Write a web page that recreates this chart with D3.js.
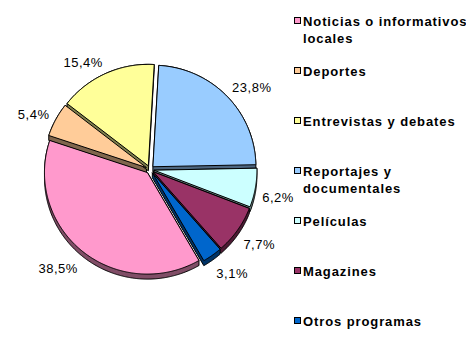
<!DOCTYPE html>
<html>
<head>
<meta charset="utf-8">
<script src="https://cdn.jsdelivr.net/npm/d3@7"></script>
<style>
  html, body { margin: 0; padding: 0; background: #fff; }
  svg { display: block; }
</style>
</head>
<body>
<svg id="chart" width="466" height="364"></svg>
<script>
// ---- data ----
const categories = [
  "Noticias o informativos locales",
  "Deportes",
  "Entrevistas y debates",
  "Reportajes y documentales",
  "Películas",
  "Magazines",
  "Otros programas"
];
const values = [38.5, 5.4, 15.4, 23.8, 6.2, 7.7, 3.1];
const colors = ["#FF99CC", "#FFCC99", "#FFFF99", "#99CCFF", "#CCFFFF", "#993366", "#0066CC"];
// legend text lines
const legendLines = [
  ["Noticias o informativos", "locales"],
  ["Deportes"],
  ["Entrevistas y debates"],
  ["Reportajes y", "documentales"],
  ["Películas"],
  ["Magazines"],
  ["Otros programas"]
];

// ---- layout ----
const svg = d3.select("#chart");
const cx = 150, cy = 169.5;
const rx = 103, ry = 101.5;
const depth = 5;
const explode = 4;
const startDeg = 150;

const pie = d3.pie().sort(null).value(d => d)
  .startAngle(startDeg * Math.PI / 180)
  .endAngle(startDeg * Math.PI / 180 + 2 * Math.PI);
const arcs = pie(values);

function slicePoints(d, dy) {
  const mid = (d.startAngle + d.endAngle) / 2;
  const ox = explode * Math.sin(mid), oy = -explode * Math.cos(mid) + dy;
  const pts = [[cx + ox, cy + oy]];
  const n = Math.max(8, Math.ceil((d.endAngle - d.startAngle) / 0.01));
  for (let i = 0; i <= n; i++) {
    const a = d.startAngle + (d.endAngle - d.startAngle) * i / n;
    pts.push([cx + ox + rx * Math.sin(a), cy + oy - ry * Math.cos(a)]);
  }
  return pts;
}
const line = d3.line().curve(d3.curveLinearClosed);
function darken(c, k) {
  const r = d3.rgb(c);
  return d3.rgb(r.r * k, r.g * k, r.b * k).formatHex();
}

// side / extrusion shapes
const gSide = svg.append("g");
arcs.forEach((d, i) => {
  const pts = slicePoints(d, 0).concat(slicePoints(d, depth));
  const hull = d3.polygonHull(pts);
  gSide.append("path")
    .attr("d", line(hull))
    .attr("fill", darken(colors[i], 0.5))
    .attr("stroke", "#000")
    .attr("stroke-width", 1)
    .attr("stroke-linejoin", "round");
});
// top faces
const gTop = svg.append("g");
arcs.forEach((d, i) => {
  gTop.append("path")
    .attr("d", line(slicePoints(d, 0)))
    .attr("fill", colors[i])
    .attr("stroke", "#000")
    .attr("stroke-width", 1)
    .attr("stroke-linejoin", "round");
});

// percentage labels
const gLab = svg.append("g")
  .attr("font-family", "Liberation Sans, Arial, sans-serif")
  .attr("font-size", "13px")
  .attr("letter-spacing", "0.5px")
  .attr("fill", "#000");
const gap = 7;
arcs.forEach((d, i) => {
  const mid = (d.startAngle + d.endAngle) / 2;
  const s = Math.sin(mid), c = Math.cos(mid);
  const px = cx + (rx + gap) * s + explode * s;
  const py = cy - (ry + gap) * c - explode * c + (c < 0 ? depth + 2 : 1);
  const t = gLab.append("text")
    .attr("text-anchor", "middle")
    .attr("dominant-baseline", "central")
    .text(values[i].toFixed(1).replace(".", ",") + "%");
  const w = t.node().getComputedTextLength(), h = 13;
  t.attr("x", px + Math.sign(s) * w / 2)
   .attr("y", py - c * h / 2);
});

// legend
const legend = svg.append("g")
  .attr("font-family", "Liberation Sans, Arial, sans-serif")
  .attr("font-size", "13px")
  .attr("letter-spacing", "0.9px")
  .attr("font-weight", "bold");
const ly = d3.scalePoint().domain(d3.range(categories.length)).range([21, 321]);
categories.forEach((c, i) => {
  const y = ly(i);
  legend.append("rect")
    .attr("x", 294.5).attr("y", y - 3.5)
    .attr("width", 6).attr("height", 6)
    .attr("fill", colors[i]).attr("stroke", "#000").attr("stroke-width", 1);
  legendLines[i].forEach((t, j) => {
    legend.append("text")
      .attr("x", 303).attr("y", y + j * 17)
      .attr("dominant-baseline", "central")
      .text(t);
  });
});
</script>
</body>
</html>
